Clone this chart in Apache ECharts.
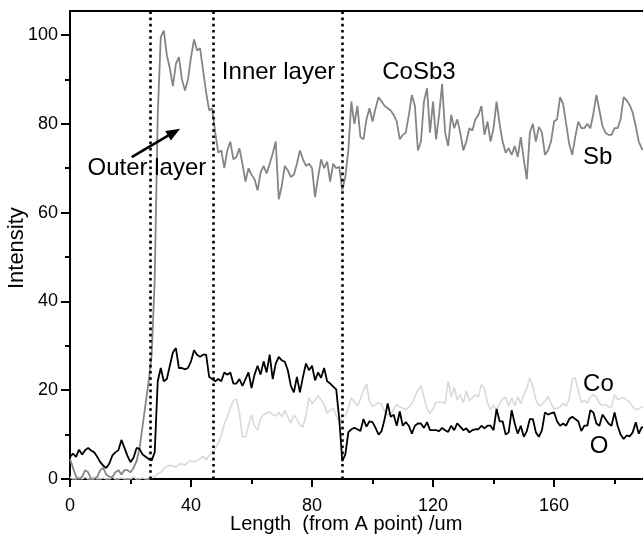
<!DOCTYPE html>
<html>
<head>
<meta charset="utf-8">
<script src="https://cdn.jsdelivr.net/npm/echarts@6/dist/echarts.min.js"></script>
<style>
html,body{margin:0;padding:0;background:#fff;}
#chart{width:643px;height:534px;}
</style>
</head>
<body>
<div id="chart"></div>
<script>
// Sample positions along the line scan (um)
const lengths = Array.from({length: 191}, (_, i) => i);

const sbValues = [
4.5,2.5,0.5,0,0.5,2,1.5,0,0,0.5,
2,2.5,1,0.5,0.5,1.5,2,1,2,2,
1.5,2.5,4,7,12,17,22,28,45,82,
99.5,101,95.5,92.5,88.5,93.5,95,90,87.5,90,
95,99,96.5,97,92,87,83,83.5,78,73.5,
74,70,74,76,72,72.5,74.5,71,67,70,
68.5,67.5,65,69,70.5,68.8,71,73.3,76,63,
66,70.5,69.5,68,68.5,71,74,72,70.5,71,
70,63.5,68,72,70,71.5,67,71,70,70.3,
65,68,74,85,80,84,77,76.5,81,83.5,
80.5,83.5,86,85,84,83.5,83,82,80.5,76.5,
77.5,78,82,86.5,84,74,76,85,88,78,
85,76.5,82,89,78,75,82,79,81,78,
74,76,79,78.5,81,82,84,77.5,80.5,76,
79,85,80,76,73.5,74.5,73,75,72.5,77,
72,67.5,78,80,76,79.3,78,73,74,76,
80.5,81,86,84.5,80,75.5,73,77,80.5,79,
79,80,79,82.3,86.5,83,79.5,78,77.5,77.5,
79,79,81,86,85.3,84.2,82.5,79.5,76,74.4,
74
];

const coValues = [
0.5,0,0,0.3,0,0.5,0,0,0.5,0,
0,0.3,0,0,0.5,0,0,0.3,0,0,
0,0.5,0,0,0.3,0,0,0.3,0.5,1.2,
1.5,2.3,2.8,3.1,2.9,2.7,3.3,3.4,3.1,3.8,
4.1,3.9,4.2,4.6,5.2,4.3,5.3,6,6.9,8,
9.8,12.5,14,16,17.7,18,15,9.5,9.5,12,
14.5,12,11,13.5,14.5,14.8,15.1,14.5,14.2,15,
14,15.4,14,12.6,14.3,13.5,12.2,11.7,14.5,18.3,
17,17.7,18.8,17.8,16.8,14.8,15.5,15.9,14.2,12.8,
14.2,14.2,16,18.3,17.3,16.5,18,20,21.4,17.5,
16.3,16.8,17.2,16.8,15.2,14.5,14.4,15.8,16.8,16.2,
16,15.6,16.2,17,18.5,20,21,18.5,15.8,14.8,
15.8,17.3,17.3,17.3,17,22,18.5,20.7,17.8,19,
17.2,19.8,17.6,18.3,19,18.5,21.3,20.3,17.2,15.6,
16.6,15.6,17,18,18.4,16.4,18.3,16.5,18.5,17,
19,20.5,22.8,20.8,17.8,16.5,16.8,17.5,18.6,17,
15.8,15.9,16.2,17,16.5,18,22.5,22.8,20,17.2,
17.7,17.1,18.5,19,18.5,17,16.6,16.8,16.2,16.2,
19,17.8,18.2,18.3,17.8,17.2,16.3,15.6,15.8,16.2,
16
];

const oValues = [
5,5.7,5,6.6,5.5,6.5,7,6.4,6,5,
3.8,3,2.5,3.5,5.3,6,6.5,8.8,7,5.2,
3.8,4.8,7,6.8,5.5,5,4.5,4.2,6,22,
25,22,22.5,25.5,28.5,29.5,25,25,24.7,25,
26.5,29,28,27.5,28,28,23,22.5,22,22.5,
22,24,23.5,24,21.5,21.5,22.5,21,22.5,24,
20.5,23.5,25.5,23.5,26.5,24,28,22.5,26,27.5,
26.7,26.4,24.5,21,19.5,23,19.5,23,26,24.5,
25.5,22.2,24,22.8,25,22,21.5,20.8,20.2,13.5,
4,5.5,10.5,11.2,11.5,11.2,10.8,13.5,11.8,13,
12.8,11.5,10,10.8,13.5,17,14,14.5,12,15.2,
12,12.8,12,10.2,12,12.5,12.5,11.5,12.8,11,
11,11,10.8,11.5,11,10.6,12,11,12.5,11.8,
11,11.4,10.5,11,11.2,11.2,12,11.4,12,12,
11,15.8,13,13,10,10.5,15.5,12.5,10.2,12,
9.5,10.8,13.5,13.5,10.5,9.5,11,15,14.5,14.8,
15,13,12,12.5,12,13.5,14,13.5,13,10.8,
12,12,15.5,15,12.5,12,14.5,13.5,12.5,12,
15,12,10,9,9.8,9.6,10.5,12.8,10.2,11.7,
11.5
];

const xTickValues = [0, 40, 80, 120, 160];
const xMinorTickValues = [20, 60, 100, 140, 180];
const yTickValues = [0, 20, 40, 60, 80, 100];
const yMinorTickValues = [10, 30, 50, 70, 90];
const layerBoundaries = [26.45, 47.4, 90.1];

// annotations in data coordinates
const annotations = [
  {text: 'Outer layer', x: 5.8, y: 70},
  {text: 'Inner layer', x: 50.2, y: 91.6},
  {text: 'CoSb3', x: 103.2, y: 91.6},
  {text: 'Sb', x: 169.6, y: 72.5},
  {text: 'Co', x: 169.6, y: 21.4},
  {text: 'O', x: 171.8, y: 7.4}
];
const arrowFrom = [20.4, 72.5];
const arrowTo = [36.4, 78.9];

const FONT = '"Liberation Sans", Arial, sans-serif';
const X_MAX = 189.4, Y_MAX = 105.4;

function pairs(vals) { return lengths.map((x, i) => [x, vals[i]]); }

const chart = echarts.init(document.getElementById('chart'), null, {renderer: 'canvas'});

const baseX = {type: 'value', min: 0, max: X_MAX, splitLine: {show: false}};
const baseY = {type: 'value', min: 0, max: Y_MAX, splitLine: {show: false}};

chart.setOption({
  animation: false,
  backgroundColor: '#fff',
  grid: {left: 70, right: 0, top: 11, bottom: 55, containLabel: false, outerBoundsMode: 'none'},
  xAxis: [
    Object.assign({}, baseX, {
      position: 'bottom',
      axisLine: {show: true, lineStyle: {color: '#000', width: 2}},
      axisTick: {show: true, customValues: xTickValues, length: 8, lineStyle: {color: '#000', width: 2}},
      axisLabel: {show: true, customValues: xTickValues, color: '#000', fontSize: 18, fontFamily: FONT, margin: 18}
    }),
    Object.assign({}, baseX, {
      position: 'bottom',
      axisLine: {show: false},
      axisTick: {show: true, customValues: xMinorTickValues, length: 5, lineStyle: {color: '#000', width: 2}},
      axisLabel: {show: false}
    }),
    Object.assign({}, baseX, {
      position: 'top',
      axisLine: {show: true, lineStyle: {color: '#000', width: 2}},
      axisTick: {show: false},
      axisLabel: {show: false}
    })
  ],
  yAxis: [
    Object.assign({}, baseY, {
      position: 'left',
      axisLine: {show: true, lineStyle: {color: '#000', width: 2}},
      axisTick: {show: true, customValues: yTickValues, length: 9, lineStyle: {color: '#000', width: 2}},
      axisLabel: {show: true, customValues: yTickValues, color: '#000', fontSize: 18, fontFamily: FONT, margin: 12}
    }),
    Object.assign({}, baseY, {
      position: 'left',
      axisLine: {show: false},
      axisTick: {show: true, customValues: yMinorTickValues, length: 5, lineStyle: {color: '#000', width: 2}},
      axisLabel: {show: false}
    })
  ],
  series: [
    {
      name: 'Co', type: 'line', xAxisIndex: 0, yAxisIndex: 0,
      data: pairs(coValues), showSymbol: false, symbol: 'none',
      lineStyle: {color: '#d9d9d9', width: 1.6}
    },
    {
      name: 'Sb', type: 'line', xAxisIndex: 0, yAxisIndex: 0,
      data: pairs(sbValues), showSymbol: false, symbol: 'none',
      lineStyle: {color: '#858585', width: 1.8}
    },
    {
      name: 'O', type: 'line', xAxisIndex: 0, yAxisIndex: 0,
      data: pairs(oValues), showSymbol: false, symbol: 'none',
      lineStyle: {color: '#000', width: 1.8},
      markLine: {
        silent: true, symbol: ['none', 'none'], animation: false,
        label: {show: false},
        lineStyle: {color: '#000', width: 2.6, type: [2.6, 3.6]},
        data: layerBoundaries.map(v => ({xAxis: v}))
      }
    }
  ]
});

function drawAnnotations() {
  const els = [];
  annotations.forEach(a => {
    const p = chart.convertToPixel({xAxisIndex: 0, yAxisIndex: 0}, [a.x, a.y]);
    els.push({
      type: 'text', x: p[0], y: p[1], z: 100,
      style: {text: a.text, fill: '#000', font: '24px ' + FONT, align: 'left', verticalAlign: 'middle'}
    });
  });
  const t = chart.convertToPixel({xAxisIndex: 0, yAxisIndex: 0}, arrowFrom);
  const h = chart.convertToPixel({xAxisIndex: 0, yAxisIndex: 0}, arrowTo);
  const dx = h[0] - t[0], dy = h[1] - t[1];
  const len = Math.sqrt(dx * dx + dy * dy);
  const ux = dx / len, uy = dy / len;
  const hl = 14, hw = 5.5;
  const bx = h[0] - ux * hl, by = h[1] - uy * hl;
  els.push({
    type: 'line', z: 100,
    shape: {x1: t[0], y1: t[1], x2: bx + ux * 2, y2: by + uy * 2},
    style: {stroke: '#000', lineWidth: 2.6}
  });
  els.push({
    type: 'polygon', z: 100,
    shape: {points: [[h[0], h[1]], [bx - uy * hw, by + ux * hw], [bx + uy * hw, by - ux * hw]]},
    style: {fill: '#000'}
  });
  // axis titles
  const xt = chart.convertToPixel({xAxisIndex: 0, yAxisIndex: 0}, [52.9, 0]);
  els.push({
    type: 'text', x: xt[0], y: 524, z: 100,
    style: {text: 'Length  (from A point) /um', fill: '#000', font: '20px ' + FONT, align: 'left', verticalAlign: 'middle'}
  });
  const yt = chart.convertToPixel({xAxisIndex: 0, yAxisIndex: 0}, [0, 52]);
  els.push({
    type: 'text', x: 17, y: yt[1], rotation: Math.PI / 2, z: 100,
    style: {text: 'Intensity', fill: '#000', font: '22px ' + FONT, align: 'center', verticalAlign: 'middle'}
  });
  chart.setOption({graphic: els});
}
drawAnnotations();
</script>
</body>
</html>
